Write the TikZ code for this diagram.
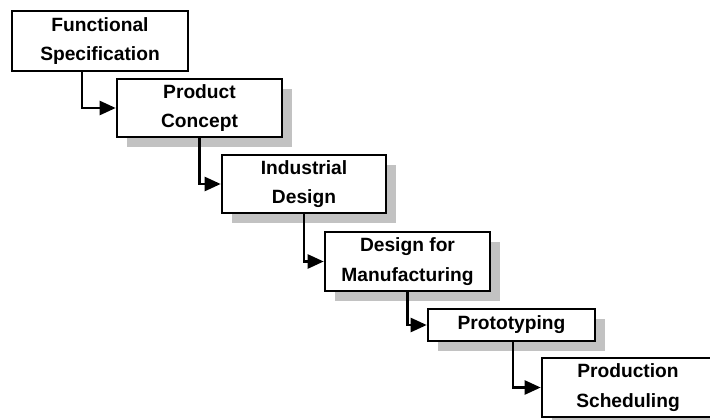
\documentclass[tikz,border=0pt]{standalone}
\usepackage{fontspec}
\setmainfont{Liberation Sans}
\usetikzlibrary{arrows.meta,calc,shadows}
\definecolor{shadowgray}{gray}{0.76}
\tikzset{
  basebox/.style={draw=black, line width=2.6pt, fill=white, inner sep=0pt,
    align=center, font=\bfseries\fontsize{19.2}{29.5}\selectfont},
  stagebox/.style={basebox,
    general shadow={shadow xshift=10pt, shadow yshift=-10pt, fill=shadowgray, draw=none}},
  flow/.style={draw=black, line width=2.4pt,
    -{Triangle[length=16pt,width=14pt]}}
}
\begin{document}
\begin{tikzpicture}[x=1pt,y=-1pt]
  \useasboundingbox (0,0) rectangle (710,420);
  \clip (0,0) rectangle (710,420);
  % the six stages of the waterfall
  \node[basebox, minimum width=176pt, minimum height=60pt] (spec) at (100,41)
        {Functional\\Specification};
  \node[stagebox, minimum width=165pt, minimum height=58pt] (concept) at (199.5,108)
        {Product\\Concept};
  \node[stagebox, minimum width=164pt, minimum height=58pt] (industrial) at (304,184)
        {Industrial\\Design};
  \node[stagebox, minimum width=165pt, minimum height=59pt] (dfm) at (407.5,261.5)
        {Design for\\Manufacturing};
  \node[stagebox, minimum width=167pt, minimum height=32pt] (proto) at (511.5,325)
        {Prototyping};
  \node[stagebox, minimum width=172pt, minimum height=59pt] (sched) at (628,387.5)
        {Production\\Scheduling};
  % elbow connectors from each stage down into the next
  \draw[flow] ($(spec.south west)!0.40!(spec.south east)$) |- (concept.west);
  \draw[flow] ($(concept.south west)!0.50!(concept.south east)$) |- (industrial.west);
  \draw[flow] ($(industrial.south west)!0.50!(industrial.south east)$) |- (dfm.west);
  \draw[flow] ($(dfm.south west)!0.50!(dfm.south east)$) |- (proto.west);
  \draw[flow] ($(proto.south west)!0.51!(proto.south east)$) |- (sched.west);
\end{tikzpicture}
\end{document}
